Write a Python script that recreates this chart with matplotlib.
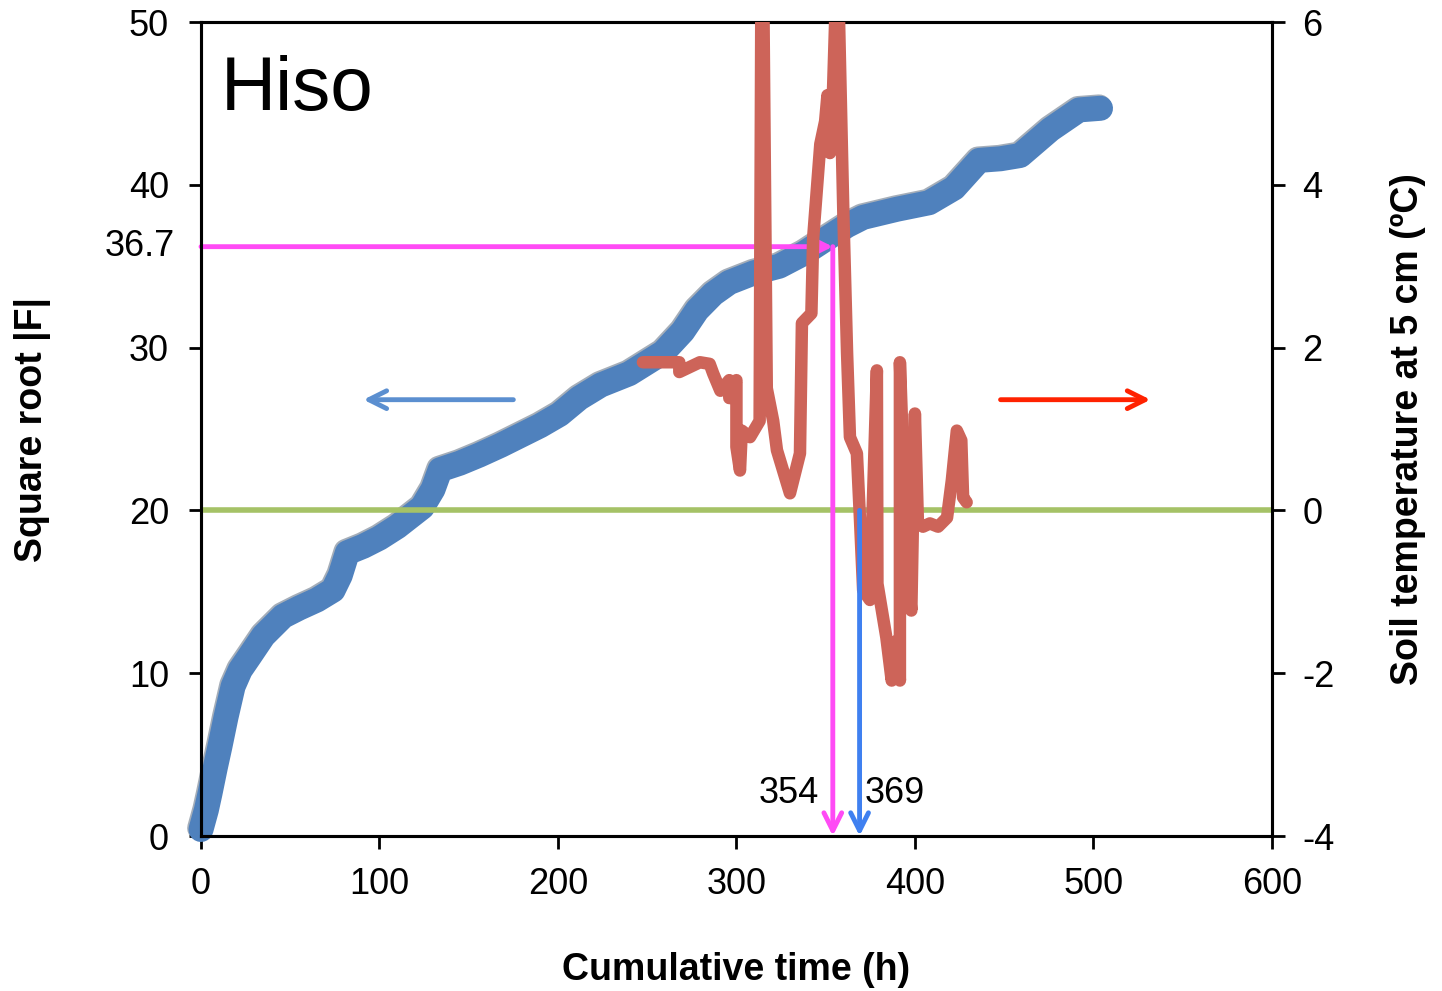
import matplotlib
matplotlib.use("Agg")
import matplotlib.pyplot as plt
import matplotlib.patheffects as pe

plt.rcParams['font.family'] = ['Liberation Sans', 'DejaVu Sans']
plt.rcParams['axes.unicode_minus'] = False

# cumulative time (h) vs square root |F| (left axis)
time_f = [0, 3, 5, 8, 10.6, 14, 18, 22, 27, 35, 46, 55, 65, 74, 78, 82, 91,
          100, 110, 124, 130, 134, 145, 156, 168, 179, 190, 201, 212, 224, 240,
          259, 270, 278, 287, 296, 310, 324, 338, 352, 362, 371, 390, 408, 422,
          436, 448, 459, 476, 492, 504]
sqrt_f = [0.4, 1.6, 2.6, 4.2, 5.5, 7.3, 9.2, 10.2, 11, 12.3, 13.5, 14.0, 14.5,
          15.1, 16.0, 17.4, 17.8, 18.3, 19, 20.2, 21.3, 22.5, 22.9, 23.4, 24.0,
          24.6, 25.2, 25.9, 26.9, 27.7, 28.4, 29.7, 31.0, 32.3, 33.3, 34, 34.6,
          35, 35.8, 36.8, 37.5, 38, 38.5, 38.9, 39.8, 41.5, 41.6, 41.8, 43.4,
          44.6, 44.7]

# soil temperature at 5 cm (right axis)
time_t = [247.6, 268, 268, 279.5, 285, 287, 291, 296, 296, 300, 300, 302, 303,
          307.6, 313, 314, 315, 317, 320.6, 322.7, 330, 335.6, 336.7, 342, 343,
          347, 349.7, 351, 352.4, 354, 356, 357, 360, 362, 363.6, 367.5, 369,
          371, 374.8, 378.7, 379, 384, 387, 390, 391.6, 391.6, 395.5, 398, 400,
          401.7, 404.5, 408.4, 413, 418, 420.7, 423.5, 426, 427, 429]
temp = [1.82, 1.82, 1.70, 1.82, 1.8, 1.68, 1.47, 1.6, 1.38, 1.6, 0.78, 0.49,
        0.98, 0.9, 1.1, 6.5, 6.5, 1.5, 1.1, 0.74, 0.21, 0.7, 2.3, 2.42, 3.35,
        4.5, 4.78, 5.1, 4.39, 5.07, 6.5, 6.5, 3.56, 1.93, 0.9, 0.7, 0.0, -0.98,
        -1.1, 1.72, -0.9, -1.56, -2.09, -1.6, -2.09, 1.82, -0.65, -1.23, 1.19,
        -0.16, -0.2, -0.16, -0.2, -0.09, 0.37, 0.98, 0.86, 0.16, 0.1]

x_ticks = [0, 100, 200, 300, 400, 500, 600]
left_ticks = [0, 10, 20, 30, 40, 50]
right_ticks = [-4, -2, 0, 2, 4, 6]

f_mark = 36.2        # drawn level of the 36.7 marker
f_label = "36.7"
t_pink = 354
t_blue = 369
zero_level = 20      # left-axis value that lines up with 0 ºC

fig = plt.figure(figsize=(14.42, 9.91), dpi=100)
ax = fig.add_axes([0.1394, 0.1564, 0.7426, 0.8214])
ax2 = ax.twinx()

ax.set_xlim(0, 600)
ax.set_ylim(0, 50)
ax2.set_ylim(-4, 6)
ax.set_xticks(x_ticks)
ax.set_yticks(left_ticks)
ax2.set_yticks(right_ticks)

for a in (ax, ax2):
    for s in a.spines.values():
        s.set_linewidth(2.2)
ax.tick_params(axis='both', direction='out', length=9, width=2, labelsize=26, pad=13)
ax.tick_params(axis='y', pad=14)
ax2.tick_params(axis='y', direction='out', length=9, width=2, labelsize=26, pad=13)

# blue series
ax.plot(time_f, sqrt_f, color='#4f81bd', lw=18, solid_capstyle='round',
        solid_joinstyle='round', clip_on=False, zorder=2,
        path_effects=[pe.SimpleLineShadow(offset=(-1, 1), shadow_color='#1f3550', alpha=0.4),
                      pe.Normal()])

# zero temperature line
ax.axhline(zero_level, color='#a5c266', lw=4, zorder=3)

# pink horizontal arrow
ax.annotate('', xy=(t_pink, f_mark), xytext=(0, f_mark),
            arrowprops=dict(arrowstyle='->', color='#ff4bf5', lw=3.5,
                            mutation_scale=32, shrinkA=0, shrinkB=0),
            zorder=4)
ax.annotate(f_label, xy=(0, f_mark), xytext=(-19, 0), textcoords='offset points',
            ha='right', va='center', fontsize=26, annotation_clip=False)

# red temperature
ax2.plot(time_t, temp, color='#cd6459', lw=9, solid_joinstyle='round',
         solid_capstyle='round', zorder=3)

# vertical arrows
ax2.annotate('', xy=(t_pink, 0), xytext=(t_pink, f_mark),
             xycoords=ax.transData, textcoords=ax.transData,
             arrowprops=dict(arrowstyle='->', color='#ff4bf5', lw=3.5,
                             mutation_scale=32, shrinkA=0, shrinkB=0),
             zorder=5)
ax2.annotate('', xy=(t_blue, 0), xytext=(t_blue, zero_level),
             xycoords=ax.transData, textcoords=ax.transData,
             arrowprops=dict(arrowstyle='->', color='#3f80f0', lw=3.5,
                             mutation_scale=32, shrinkA=0, shrinkB=0),
             zorder=5)
ax.text(t_pink - 8, 2.6, str(t_pink), ha='right', va='center', fontsize=26)
ax.text(t_blue + 3, 2.6, str(t_blue), ha='left', va='center', fontsize=26)

# direction arrows
ax.annotate('', xy=(91, 26.8), xytext=(175, 26.8),
            arrowprops=dict(arrowstyle='->', color='#5b8fd0', lw=3.5,
                            mutation_scale=32, shrinkA=0, shrinkB=0))
ax.annotate('', xy=(532, 26.8), xytext=(448, 26.8),
            arrowprops=dict(arrowstyle='->', color='#ff2200', lw=3.5,
                            mutation_scale=32, shrinkA=0, shrinkB=0))

ax.text(0.018, 0.96, 'Hiso', transform=ax.transAxes, fontsize=55,
        ha='left', va='top')

ax.set_xlabel('Cumulative time (h)', fontsize=27, fontweight='bold', labelpad=36)
ax.set_ylabel('Square root |F|', fontsize=27, fontweight='bold', labelpad=56)
ax2.set_ylabel('Soil temperature at 5 cm (ºC)', fontsize=27, fontweight='bold', labelpad=40)

fig.savefig('out.png', dpi=100)
